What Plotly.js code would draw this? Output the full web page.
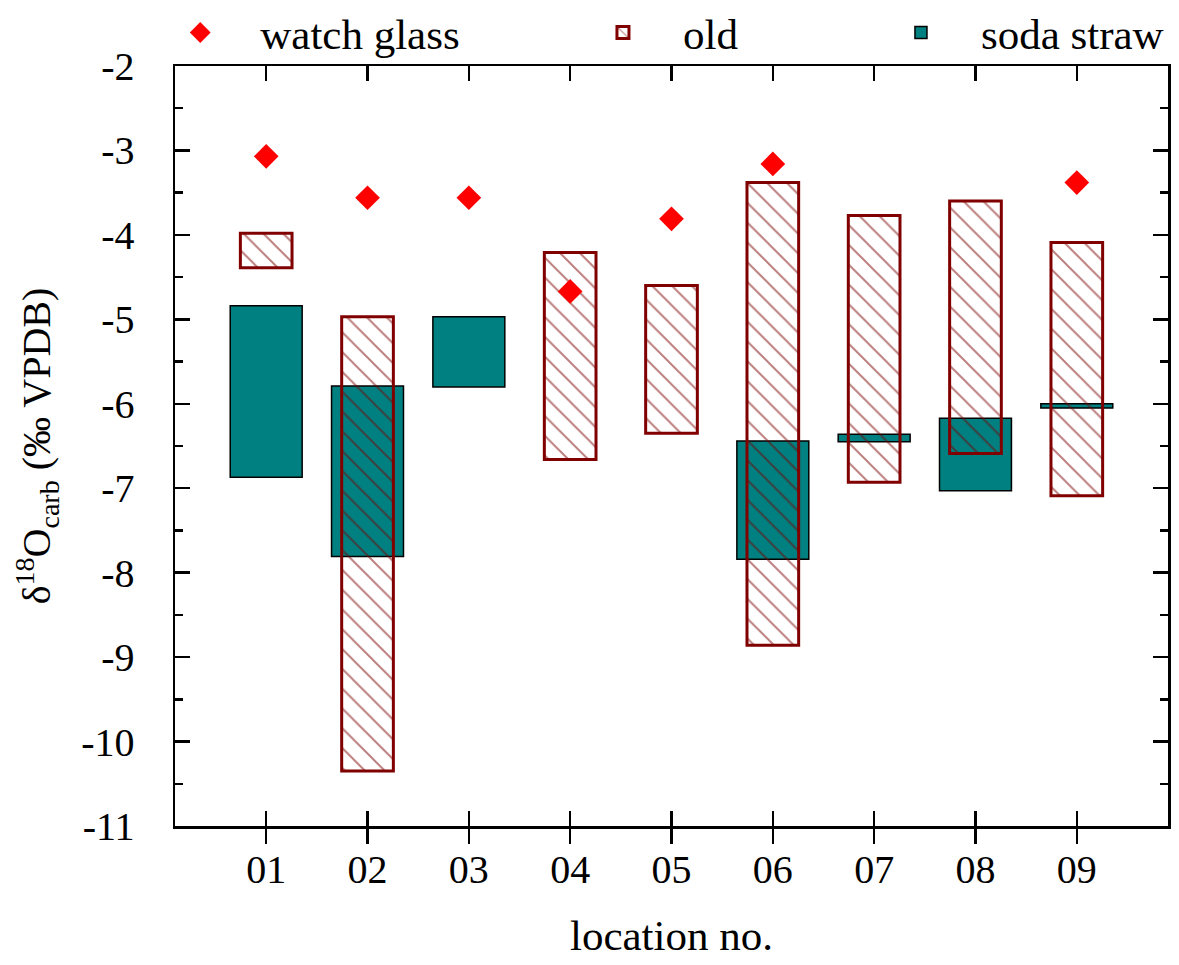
<!DOCTYPE html>
<html>
<head>
<meta charset="utf-8">
<script src="https://cdn.plot.ly/plotly-3.0.1.min.js"></script>
<style>html,body{margin:0;padding:0;background:#fff;}#chart{width:1179px;height:965px;}</style>
</head>
<body>
<div id="chart"></div>
<script>
const locations = ['01','02','03','04','05','06','07','08','09'];
const watchGlass = [-3.07, -3.56, -3.56, -4.67, -3.81, -3.16, null, null, -3.38];
const oldTop    = [-3.98, -4.97, null, -4.21, -4.60, -3.38, -3.77, -3.60, -4.09];
const oldBottom = [-4.39, -10.35, null, -6.66, -6.35, -8.86, -6.93, -6.59, -7.09];
const sodaTop    = [-4.84, -5.79, -4.97, null, null, -6.44, -6.36, -6.17, -6.00];
const sodaBottom = [-6.87, -7.81, -5.80, null, null, -7.84, -6.45, -7.03, -6.05];
const yTickVals = [-2, -3, -4, -5, -6, -7, -8, -9, -10, -11];
const yTickText = ['-2', '-3', '-4', '-5', '-6', '-7', '-8', '-9', '-10', '-11'];

const span = (t, b) => t.map((v, i) => (v === null || b[i] === null) ? null : v - b[i]);

const FONT = 'Liberation Serif, Times New Roman, serif';

const traces = [
  {
    type: 'bar', name: 'soda straw', x: locations, y: span(sodaTop, sodaBottom), base: sodaBottom,
    width: 0.71, xaxis: 'x', yaxis: 'y', legend: 'legend3',
    marker: {color: '#008080', line: {color: '#000000', width: 1.5}}
  },
  {
    type: 'bar', name: 'old', x: locations, y: span(oldTop, oldBottom), base: oldBottom,
    width: 0.51, xaxis: 'x2', yaxis: 'y', legend: 'legend2',
    marker: {
      color: 'rgba(0,0,0,0)',
      line: {color: '#800000', width: 3},
      pattern: {shape: '\\', fgcolor: '#7a0000', bgcolor: 'rgba(0,0,0,0)', size: 14, solidity: 0.14, fillmode: 'overlay'}
    }
  },
  {
    type: 'scatter', mode: 'markers', name: 'watch glass', x: locations, y: watchGlass,
    xaxis: 'x2', yaxis: 'y', legend: 'legend',
    marker: {symbol: 'diamond', size: 19, color: '#ff0000'}
  }
];

const legendBase = {
  orientation: 'h', xanchor: 'left', y: 1.044, yanchor: 'middle',
  font: {family: FONT, size: 43}, itemwidth: 110,
  bgcolor: 'rgba(0,0,0,0)'
};

const layout = {
  width: 1179, height: 965,
  margin: {l: 175, r: 11, t: 66, b: 139, autoexpand: false},
  paper_bgcolor: '#ffffff', plot_bgcolor: '#ffffff',
  font: {family: FONT, size: 40, color: '#000000'},
  barmode: 'overlay',
  showlegend: true,
  legend: Object.assign({}, legendBase, {x: -0.035}),
  legend2: Object.assign({}, legendBase, {x: 0.3907}),
  legend3: Object.assign({}, legendBase, {x: 0.6908}),
  xaxis: {
    type: 'category', categoryarray: locations, categoryorder: 'array',
    range: [-0.9, 8.9], showgrid: false, zeroline: false,
    showline: true, linecolor: '#000', linewidth: 2.5,
    ticks: 'outside', ticklen: 15, tickwidth: 2.5, tickcolor: '#000',
    tickfont: {family: FONT, size: 40}, ticklabelstandoff: -9,
    title: {text: 'location no.', font: {family: FONT, size: 43}, standoff: 30},
    automargin: false
  },
  xaxis2: {
    type: 'category', categoryarray: locations, categoryorder: 'array',
    overlaying: 'x', matches: 'x', side: 'bottom',
    range: [-0.9, 8.9], showgrid: false, zeroline: false,
    showline: true, linecolor: '#000', linewidth: 2.5, mirror: 'ticks',
    ticks: 'inside', ticklen: 15, tickwidth: 2.5, tickcolor: '#000',
    showticklabels: false
  },
  yaxis: {
    range: [-11, -2], tickmode: 'array', tickvals: yTickVals, ticktext: yTickText,
    showgrid: false, zeroline: false,
    showline: true, linecolor: '#000', linewidth: 2.5, mirror: 'ticks',
    ticks: 'inside', ticklen: 15, tickwidth: 2.5, tickcolor: '#000',
    minor: {dtick: 0.5, tick0: 0, ticks: 'inside', ticklen: 8, tickwidth: 2.5, tickcolor: '#000', showgrid: false},
    tickfont: {family: FONT, size: 40}, ticklabelstandoff: 30,
    title: {text: 'δ<sup>18</sup>O<sub>carb</sub> (‰ VPDB)', font: {family: FONT, size: 40}, standoff: 18},
    automargin: false
  }
};

Plotly.newPlot('chart', traces, layout, {staticPlot: true, displayModeBar: false});
</script>
</body>
</html>
